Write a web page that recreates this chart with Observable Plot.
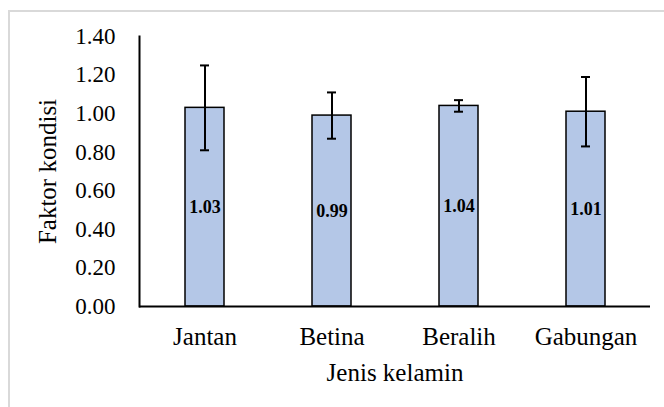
<!DOCTYPE html>
<html>
<head>
<meta charset="utf-8">
<script src="https://cdn.jsdelivr.net/npm/d3@7"></script>
<script src="https://cdn.jsdelivr.net/npm/@observablehq/plot@0.6"></script>
<style>
  html, body { margin: 0; padding: 0; background: #fff; }
  #wrap { position: relative; width: 664px; height: 407px; overflow: hidden; }
  #border { position: absolute; left: 8px; top: 10px; width: 670px; height: 420px; border: 2px solid #d9d9d9; box-sizing: border-box; }
  #chart { position: absolute; left: 0; top: 0; }
</style>
</head>
<body>
<div id="wrap"><div id="border"></div><div id="chart"></div></div>
<script>
const categories = ["Jantan", "Betina", "Beralih", "Gabungan"];
const means = [1.03, 0.99, 1.04, 1.01];
const errors = [0.22, 0.12, 0.03, 0.18];
const labels = ["1.03", "0.99", "1.04", "1.01"];
const yTicks = [0, 0.2, 0.4, 0.6, 0.8, 1.0, 1.2, 1.4];
const yTitle = "Faktor kondisi";
const xTitle = "Jenis kelamin";

const data = categories.map((c, i) => ({
  cat: c, mean: means[i], lo: means[i] - errors[i], hi: means[i] + errors[i], label: labels[i]
}));

const font = "'Liberation Serif', 'Times New Roman', serif";
const barInset = 44;
const capInset = 59;

const chart = Plot.plot({
  width: 664,
  height: 407,
  marginLeft: 139,
  marginRight: 14,
  marginTop: 36,
  marginBottom: 101,
  style: { fontFamily: font, background: "transparent", color: "#000" },
  x: { domain: categories, padding: 0, label: null },
  y: { domain: [0, 1.4], label: null },
  marks: [
    Plot.barY(data, { x: "cat", y: "mean", fill: "#b4c7e7", stroke: "#000", strokeWidth: 1.5, insetLeft: barInset, insetRight: barInset }),
    Plot.ruleX(data, { x: "cat", y1: "lo", y2: "hi", stroke: "#000", strokeWidth: 2 }),
    Plot.tickY(data, { x: "cat", y: "lo", stroke: "#000", strokeWidth: 2, insetLeft: capInset, insetRight: capInset }),
    Plot.tickY(data, { x: "cat", y: "hi", stroke: "#000", strokeWidth: 2, insetLeft: capInset, insetRight: capInset }),
    Plot.text(data, { x: "cat", y: d => d.mean / 2, text: "label", fontWeight: "bold", fontSize: 18, fill: "#000" }),
    Plot.ruleY([0], { stroke: "#000", strokeWidth: 2 }),
    Plot.frame({ anchor: "left", stroke: "#000", strokeWidth: 2 }),
    Plot.axisY({ ticks: yTicks, tickFormat: d3.format(".2f"), tickSize: 0, tickPadding: 24, fontSize: 23, label: null }),
    Plot.axisX({ tickSize: 0, tickPadding: 21, fontSize: 25, label: null }),
    Plot.text([yTitle], { frameAnchor: "left", dx: -92, rotate: -90, textAnchor: "middle", lineAnchor: "middle", fontSize: 25, fill: "#000" }),
    Plot.text([xTitle], { frameAnchor: "bottom", dy: 66, lineAnchor: "middle", fontSize: 25, fill: "#000" })
  ]
});
document.getElementById("chart").appendChild(chart);
</script>
</body>
</html>
